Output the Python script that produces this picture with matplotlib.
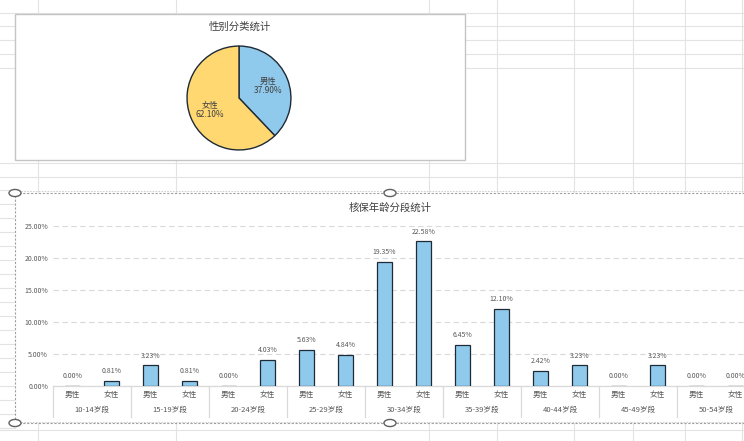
import matplotlib
matplotlib.use("Agg")
import matplotlib.pyplot as plt
import numpy as np
from matplotlib.patches import Rectangle, Circle
from matplotlib.lines import Line2D

plt.rcParams['font.family'] = ['Noto Sans CJK SC', 'DejaVu Sans']

# ---------------- data ----------------
pie_labels = ["男性", "女性"]
pie_values = [37.90, 62.10]

age_groups = ["10-14岁段", "15-19岁段", "20-24岁段", "25-29岁段", "30-34岁段",
              "35-39岁段", "40-44岁段", "45-49岁段", "50-54岁段"]
sub_labels = ["男性", "女性"]
male_pct = [0.00, 3.23, 0.00, 5.63, 19.35, 6.45, 2.42, 0.00, 0.00]
female_pct = [0.81, 0.81, 4.03, 4.84, 22.58, 12.10, 3.23, 3.23, 0.00]
y_ticks = [0, 5, 10, 15, 20, 25]

W, H = 744, 441
fig = plt.figure(figsize=(W / 100, H / 100), dpi=100)
fig.patch.set_facecolor("white")


def fx(x):
    return x / W


def fy(y):
    return 1 - y / H


BLUE = "#8FC9EC"
YELLOW = "#FFD872"
EDGE = "#1E2A36"
TXT = "#595959"
GRIDC = "#E3E3E3"

# ---------------- spreadsheet background ----------------
for y in [13, 26, 40, 54, 68, 163, 177]:
    fig.add_artist(Line2D([0, 1], [fy(y), fy(y)], color=GRIDC, lw=0.8, zorder=0))
for y in range(190, 441, 14):
    fig.add_artist(Line2D([0, fx(15)], [fy(y), fy(y)], color=GRIDC, lw=0.8, zorder=0))
for y in [430]:
    fig.add_artist(Line2D([0, 1], [fy(y), fy(y)], color=GRIDC, lw=0.8, zorder=0))
for x in [38, 176, 429, 497, 574, 633, 685, 742]:
    fig.add_artist(Line2D([fx(x), fx(x)], [0, 1], color=GRIDC, lw=0.8, zorder=0))

# ---------------- pie chart box ----------------
fig.add_artist(Rectangle((fx(15), fy(160)), 450 / W, 146 / H, facecolor="white",
                         edgecolor="#C4C4C4", lw=1.0, zorder=1))
fig.text(fx(240), fy(27), "性别分类统计", ha="center", va="center",
         fontsize=7.5, color="#404040", zorder=3)

cx, cy, r = 239, 98, 53
axp = fig.add_axes([fx(cx - r), fy(cy + r), 2 * r / W, 2 * r / H])
axp.set_zorder(2)
wedges, texts = axp.pie(
    pie_values,
    labels=[f"{l}\n{v:.2f}%" for l, v in zip(pie_labels, pie_values)],
    colors=[BLUE, YELLOW], startangle=90, counterclock=False,
    labeldistance=0.6, radius=1,
    wedgeprops=dict(edgecolor=EDGE, linewidth=1.0),
    textprops=dict(fontsize=6, color="#404040", ha="center", va="center",
                   linespacing=1.0))
axp.set_xlim(-1.02, 1.02)
axp.set_ylim(-1.02, 1.02)
axp.set_aspect("equal")
axp.axis("off")

# ---------------- bar chart box ----------------
fig.add_artist(Rectangle((fx(15), fy(423)), 760 / W, 230 / H, facecolor="white",
                         edgecolor="none", zorder=1))
for y in [193, 423]:
    fig.add_artist(Line2D([fx(15), 1], [fy(y), fy(y)], color="#A0A0A0", lw=0.8,
                          ls=(0, (2, 1.5)), zorder=4))
    fig.add_artist(Line2D([fx(15), 1], [fy(y) + 1.5 / H, fy(y) + 1.5 / H], color="#C8C8C8",
                          lw=0.6, ls=(0, (2, 1.5)), zorder=4))
fig.add_artist(Line2D([fx(15), fx(15)], [fy(423), fy(193)], color="#A0A0A0", lw=0.8,
                      ls=(0, (2, 1.5)), zorder=4))
fig.text(fx(390), fy(208), "核保年龄分段统计", ha="center", va="center",
         fontsize=7.5, color="#404040", zorder=3)

n = len(age_groups)
axb = fig.add_axes([fx(53), fy(386), 702 / W, 160 / H])
axb.set_zorder(2)
axb.patch.set_alpha(0)

male_x = np.arange(n) * 2
female_x = np.arange(n) * 2 + 1
bw = 0.41
axb.bar(male_x, male_pct, width=bw, color=BLUE, edgecolor=EDGE, linewidth=0.9, zorder=3)
axb.bar(female_x, female_pct, width=bw, color=BLUE, edgecolor=EDGE, linewidth=0.9, zorder=3)

for xs, vals in [(male_x, male_pct), (female_x, female_pct)]:
    for x, v in zip(xs, vals):
        axb.annotate(f"{v:.2f}%", (x, v), xytext=(0, 7), textcoords="offset points",
                     ha="center", va="center", fontsize=5, color=TXT, zorder=4)

axb.set_xlim(-0.5, 2 * n - 0.5)
axb.set_ylim(0, 25)
axb.set_yticks(y_ticks)
axb.set_yticklabels([f"{v:.2f}%" for v in y_ticks])
axb.tick_params(axis="y", length=0, labelsize=5, labelcolor=TXT, pad=3.5)
axb.set_xticks([])
axb.yaxis.grid(True, color="#D9D9D9", ls=(0, (5, 3)), lw=0.8)
axb.set_axisbelow(True)
for s in ["top", "right", "left"]:
    axb.spines[s].set_visible(False)
axb.spines["bottom"].set_color("#D9D9D9")
axb.spines["bottom"].set_linewidth(0.9)

tr = axb.get_xaxis_transform()
ph = 160
for i in range(2 * n):
    axb.text(i, -(395 - 386) / ph, sub_labels[i % 2], transform=tr, ha="center",
             va="center", fontsize=5.5, color=TXT, clip_on=False)
for g in range(n):
    axb.text(2 * g + 0.5, -(410 - 386) / ph, age_groups[g], transform=tr, ha="center",
             va="center", fontsize=5.5, color=TXT, clip_on=False)
for g in range(n + 1):
    axb.plot([2 * g - 0.5, 2 * g - 0.5], [0, -(417 - 386) / ph], transform=tr,
             color="#D9D9D9", lw=0.9, clip_on=False)

# selection handles
for (hx, hy) in [(15, 193), (390, 193), (15, 423), (390, 423)]:
    fig.add_artist(Circle((fx(hx), fy(hy)), 6 / W, transform=fig.transFigure,
                          facecolor="white", edgecolor="#606060", lw=1.0, zorder=5))

fig.savefig("out.png", dpi=100, facecolor="white")
